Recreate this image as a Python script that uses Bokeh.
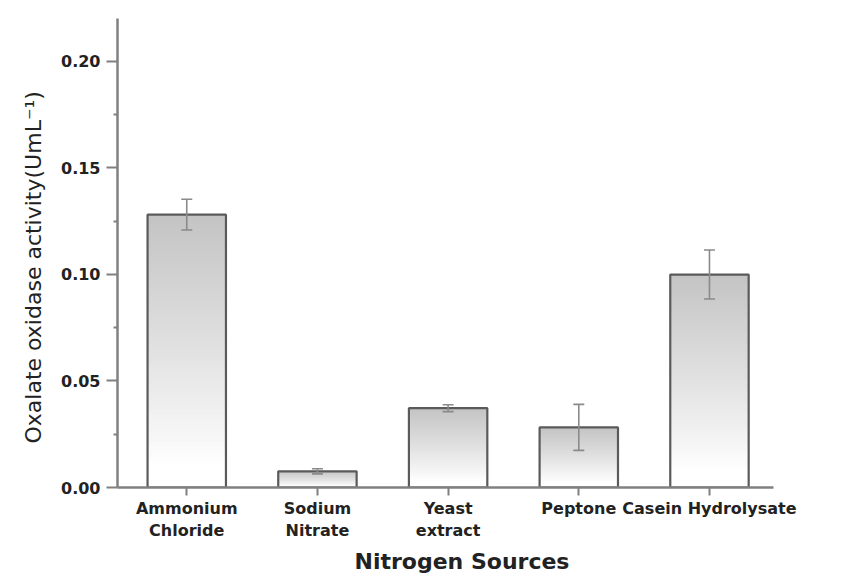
from bokeh.plotting import figure
from bokeh.models import (Range1d, FixedTicker, ColumnDataSource, Whisker, TeeHead,
                          CustomJSTickFormatter, Title)
from bokeh.embed import file_html
from bokeh.resources import INLINE

# Nitrogen source screening: oxalate oxidase activity (U/mL), mean and error
sources = ["Ammonium\nChloride", "Sodium\nNitrate", "Yeast\nextract", "Peptone", "Casein Hydrolysate"]
activity = [0.128, 0.0076, 0.0372, 0.0282, 0.0999]
error = [0.0072, 0.0012, 0.0016, 0.0108, 0.0115]
y_ticks = [0.00, 0.05, 0.10, 0.15, 0.20]
y_minor = [0.025, 0.075, 0.125, 0.175]

positions = list(range(1, len(sources) + 1))
BAR_W = 0.6
N_SLICES = 60

p = figure(width=844, height=578, output_backend="svg", toolbar_location=None,
           x_range=Range1d(0.47, 5.49), y_range=Range1d(0, 0.22),
           min_border_left=117, min_border_right=71, min_border_top=18,
           min_border_bottom=91)
p.outline_line_color = None
p.xgrid.visible = False
p.ygrid.visible = False
p.background_fill_color = "white"
p.border_fill_color = "white"

# gradient fill: overlapping layers, each running from a fraction of the bar
# height up to its top, so the shade goes from white at the base to grey on top
gx, gb, gt, gc = [], [], [], []
for i in range(N_SLICES):
    frac = (i + 0.5) / N_SLICES
    t = min(1.0, max(0.0, (frac - 0.08) / 0.92))
    shade = int(round(255 - (255 - 196) * t ** 0.9))
    for x, v in zip(positions, activity):
        gx.append(x)
        gb.append(v * i / N_SLICES)
        gt.append(v)
        gc.append("#%02x%02x%02x" % (shade, shade, shade))
p.vbar(x=gx, bottom=gb, top=gt, width=BAR_W, fill_color=gc, line_color=None)

# bar outlines
p.vbar(x=positions, top=activity, bottom=0, width=BAR_W, fill_color=None,
       line_color="#5a5a5a", line_width=2.2)

# error bars, drawn on top of the bars
src = ColumnDataSource(dict(
    x=positions,
    upper=[a + e for a, e in zip(activity, error)],
    lower=[a - e for a, e in zip(activity, error)],
))
w = Whisker(base="x", upper="upper", lower="lower", source=src, level="overlay",
            line_color="#8a8a8a", line_width=1.6,
            upper_head=TeeHead(size=11, line_color="#8a8a8a", line_width=1.6),
            lower_head=TeeHead(size=11, line_color="#8a8a8a", line_width=1.6))
p.add_layout(w)

FONT = "DejaVu Sans"
TXT = "#222222"

# y axis
ya = p.yaxis[0]
ya.ticker = FixedTicker(ticks=y_ticks, minor_ticks=y_minor)
ya.formatter = CustomJSTickFormatter(code="return tick.toFixed(2);")
ya.axis_line_color = "#808080"
ya.axis_line_width = 2.5
ya.major_tick_line_color = "#808080"
ya.major_tick_line_width = 2
ya.minor_tick_line_color = "#808080"
ya.minor_tick_line_width = 2
ya.major_tick_in = 0
ya.major_tick_out = 11
ya.minor_tick_in = 0
ya.minor_tick_out = 4
ya.major_label_text_font = FONT
ya.major_label_text_font_style = "bold"
ya.major_label_text_font_size = "16px"
ya.major_label_text_color = TXT
ya.major_label_standoff = 6

# x axis
xa = p.xaxis[0]
xa.ticker = FixedTicker(ticks=positions, minor_ticks=[])
xa.major_label_overrides = {pos: lab for pos, lab in zip(positions, sources)}
xa.axis_line_color = "#808080"
xa.axis_line_width = 2.5
xa.major_tick_line_color = "#808080"
xa.major_tick_line_width = 2
xa.major_tick_in = 0
xa.major_tick_out = 8
xa.minor_tick_line_color = None
xa.major_label_text_font = FONT
xa.major_label_text_font_style = "bold"
xa.major_label_text_font_size = "16px"
xa.major_label_text_color = TXT
xa.major_label_standoff = 3

# axis titles, set as side titles so they can sit slightly off-centre
ytitle = Title(text="Oxalate oxidase activity(UmL\u207b\u00b9)", align="left",
               offset=44, text_font=FONT, text_font_style="normal",
               text_font_size="22px", text_color=TXT, standoff=26)
p.add_layout(ytitle, "left")
xtitle = Title(text="Nitrogen Sources", align="left", offset=237,
               text_font=FONT, text_font_style="bold", text_font_size="22px",
               text_color=TXT, standoff=6)
p.add_layout(xtitle, "below")

open("out.html", "w").write(file_html(p, INLINE))
